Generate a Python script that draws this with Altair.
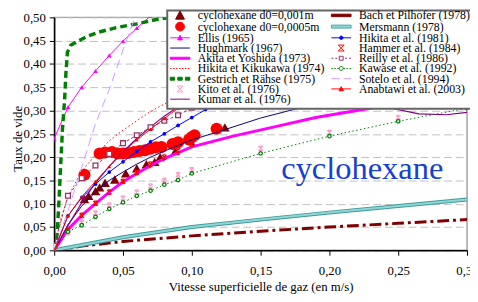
import altair as alt
import pandas as pd

# ---------------- data ----------------
SERIES = [
    "cyclohexane d0=0,001m", "cyclohexane d0=0,0005m", "Ellis (1965)", "Hughmark (1967)",
    "Akita et Yoshida (1973)", "Hikita et Kikukawa (1974)", "Gestrich et Rähse (1975)",
    "Kito et al. (1976)", "Kumar et al. (1976)", "Bach et Pilhofer (1978)", "Mersmann (1978)",
    "Hikita et al. (1981)", "Hammer et al. (1984)", "Reilly et al. (1986)", "Kawase et al. (1992)",
    "Sotelo et al. (1994)", "Anabtawi et al. (2003)",
]

EXP1_X = [0.022, 0.025, 0.030, 0.033, 0.037, 0.044, 0.052, 0.060, 0.067, 0.073, 0.077, 0.088, 0.099, 0.124]
EXP1_Y = [0.110, 0.117, 0.127, 0.135, 0.145, 0.152, 0.165, 0.176, 0.185, 0.190, 0.200, 0.213, 0.235, 0.264]

EXP2_X = [0.022, 0.033, 0.037, 0.042, 0.046, 0.050, 0.054, 0.058, 0.062, 0.066, 0.070, 0.074, 0.078,
          0.086, 0.090, 0.098, 0.100, 0.102, 0.118]
EXP2_Y = [0.162, 0.208, 0.210, 0.211, 0.208, 0.208, 0.209, 0.211, 0.213, 0.215, 0.218, 0.221, 0.222,
          0.228, 0.232, 0.238, 0.243, 0.247, 0.261]

ELLIS_X = [0, 0.01, 0.02, 0.03, 0.04, 0.05, 0.06, 0.07]
ELLIS_Y = [0.240, 0.307, 0.350, 0.385, 0.418, 0.449, 0.477, 0.503]

HUGHMARK_X = [0, 0.01, 0.02, 0.03, 0.04, 0.05, 0.06, 0.07, 0.08, 0.10, 0.125, 0.15, 0.175, 0.20]
HUGHMARK_Y = [0, 0.055, 0.095, 0.125, 0.150, 0.168, 0.185, 0.200, 0.213, 0.237, 0.260, 0.284, 0.303, 0.320]

AKITA_X = [0, 0.01, 0.02, 0.03, 0.04, 0.05, 0.06, 0.07, 0.08, 0.10, 0.13, 0.16, 0.19, 0.22, 0.25, 0.28]
AKITA_Y = [0, 0.045, 0.075, 0.100, 0.125, 0.147, 0.165, 0.182, 0.197, 0.222, 0.245, 0.265, 0.285, 0.300, 0.315, 0.330]

HIKITA74_X = [0, 0.005, 0.01, 0.02, 0.03, 0.04, 0.05, 0.06, 0.07, 0.08, 0.09, 0.10]
HIKITA74_Y = [0, 0.070, 0.115, 0.170, 0.205, 0.235, 0.258, 0.278, 0.298, 0.314, 0.330, 0.345]

GESTRICH_X = [0, 0.002, 0.003, 0.004, 0.005, 0.006, 0.0075, 0.0085, 0.0096, 0.012, 0.016, 0.023,
              0.032, 0.045, 0.06, 0.075, 0.085, 0.10]
GESTRICH_Y = [0, 0.03, 0.08, 0.14, 0.20, 0.26, 0.32, 0.38, 0.425, 0.440, 0.447, 0.458,
              0.468, 0.478, 0.486, 0.496, 0.500, 0.505]

KITO_X = [0, 0.01, 0.02, 0.03, 0.04, 0.05, 0.06, 0.07, 0.08, 0.09, 0.10, 0.15, 0.20, 0.25, 0.30]
KITO_Y = [0.010, 0.038, 0.060, 0.080, 0.097, 0.112, 0.125, 0.138, 0.150, 0.162, 0.173, 0.219, 0.253, 0.285, 0.308]

KUMAR_X = [0, 0.01, 0.02, 0.03, 0.04, 0.05, 0.06, 0.07, 0.08, 0.09, 0.10, 0.12, 0.15, 0.19, 0.23,
           0.265, 0.285, 0.30]
KUMAR_Y = [0, 0.053, 0.102, 0.145, 0.180, 0.212, 0.240, 0.265, 0.288, 0.308, 0.325, 0.340, 0.345, 0.335, 0.314,
           0.293, 0.291, 0.296]

BACH_X = [0, 0.02, 0.05, 0.10, 0.15, 0.20, 0.25, 0.30]
BACH_Y = [0, 0.009, 0.019, 0.031, 0.041, 0.050, 0.058, 0.066]

MERSMANN_X = [0, 0.05, 0.10, 0.15, 0.20, 0.25, 0.30]
MERSMANN_Y = [0, 0.028, 0.050, 0.066, 0.081, 0.095, 0.109]

HIKITA81_X = [0, 0.01, 0.02, 0.03, 0.04, 0.05, 0.06, 0.07, 0.08, 0.09, 0.10, 0.11, 0.12, 0.13]
HIKITA81_Y = [0, 0.074, 0.113, 0.142, 0.168, 0.190, 0.212, 0.233, 0.250, 0.268, 0.285, 0.302, 0.317, 0.332]

HAMMER_X = [0, 0.01, 0.02, 0.03, 0.04, 0.05, 0.06, 0.07, 0.08, 0.09, 0.10, 0.15]
HAMMER_Y = [0, 0.043, 0.075, 0.101, 0.125, 0.148, 0.167, 0.185, 0.200, 0.215, 0.228, 0.310]

REILLY_X = [0, 0.01, 0.02, 0.03, 0.04, 0.05, 0.06, 0.07, 0.08, 0.09, 0.10, 0.11]
REILLY_Y = [0.010, 0.117, 0.155, 0.182, 0.207, 0.230, 0.247, 0.264, 0.278, 0.290, 0.306, 0.320]

KAWASE_X = [0, 0.01, 0.02, 0.03, 0.04, 0.05, 0.06, 0.07, 0.08, 0.09, 0.10, 0.15, 0.20, 0.25, 0.30]
KAWASE_Y = [0, 0.040, 0.054, 0.072, 0.089, 0.103, 0.117, 0.128, 0.141, 0.151, 0.165, 0.208, 0.245, 0.277, 0.305]

SOTELO_X = [0, 0.01, 0.02, 0.03, 0.04, 0.05, 0.06]
SOTELO_Y = [0, 0.085, 0.178, 0.272, 0.345, 0.430, 0.510]

ANABTAWI_X = [0, 0.01, 0.02, 0.03, 0.04, 0.05, 0.06, 0.07, 0.08, 0.09, 0.10]
ANABTAWI_Y = [0, 0.074, 0.115, 0.148, 0.180, 0.210, 0.237, 0.260, 0.283, 0.305, 0.325]

X_TICKS = [0, 0.05, 0.10, 0.15, 0.20, 0.25, 0.30]
Y_TICKS = [0, 0.05, 0.10, 0.15, 0.20, 0.25, 0.30, 0.35, 0.40, 0.45, 0.50]

NOTE_TEXT = ["cyclohexane"]
NOTE_X = [0.165]
NOTE_Y = [0.154]

DATA = {
    SERIES[0]: (EXP1_X, EXP1_Y), SERIES[1]: (EXP2_X, EXP2_Y), SERIES[2]: (ELLIS_X, ELLIS_Y),
    SERIES[3]: (HUGHMARK_X, HUGHMARK_Y), SERIES[4]: (AKITA_X, AKITA_Y), SERIES[5]: (HIKITA74_X, HIKITA74_Y),
    SERIES[6]: (GESTRICH_X, GESTRICH_Y), SERIES[7]: (KITO_X, KITO_Y), SERIES[8]: (KUMAR_X, KUMAR_Y),
    SERIES[9]: (BACH_X, BACH_Y), SERIES[10]: (MERSMANN_X, MERSMANN_Y), SERIES[11]: (HIKITA81_X, HIKITA81_Y),
    SERIES[12]: (HAMMER_X, HAMMER_Y), SERIES[13]: (REILLY_X, REILLY_Y), SERIES[14]: (KAWASE_X, KAWASE_Y),
    SERIES[15]: (SOTELO_X, SOTELO_Y), SERIES[16]: (ANABTAWI_X, ANABTAWI_Y),
}

# ---------------- styles ----------------
FONT = "Liberation Serif"
XSTAR = "M-1,-1L1,1M1,-1L-1,1M-0.6,-1H0.6M-0.6,1H0.6"
CIRC = "M-1,0A1,1 0 1,0 1,0A1,1 0 1,0 -1,0Z"
# (color, line width, dash, marker shape, marker size, marker filled)
STYLE = {
    SERIES[0]: ("#800000", 0, None, "triangle-up", 95, True),
    SERIES[1]: ("#FF0000", 0, None, "circle", 150, True),
    SERIES[2]: ("#FF00FF", 1, None, "triangle-up", 22, True),
    SERIES[3]: ("#000080", 1, None, None, 0, True),
    SERIES[4]: ("#FF00FF", 3, None, None, 0, True),
    SERIES[5]: ("#FF0000", 1, [1.5, 2.5], None, 0, True),
    SERIES[6]: ("#008000", 3.5, [7, 4], None, 0, True),
    SERIES[7]: ("#FF99CC", 0, None, XSTAR, 20, False),
    SERIES[8]: ("#800080", 1.2, None, None, 0, True),
    SERIES[9]: ("#800000", 3, [12, 4, 3, 4], None, 0, True),
    SERIES[10]: ("#66C2C2", 3, None, None, 0, True),
    SERIES[11]: ("#0000FF", 1, None, "circle", 14, True),
    SERIES[12]: ("#FF0000", 0, None, XSTAR, 20, False),
    SERIES[13]: ("#993366", 1, [3, 2], "square", 24, False),
    SERIES[14]: ("#008000", 1, [1.5, 2.5], CIRC, 12, False),
    SERIES[15]: ("#CC99FF", 1, [9, 5], None, 0, True),
    SERIES[16]: ("#FF0000", 1, None, "triangle-up", 16, True),
}

# ---- legend symbol paths (1 unit = 5 px at symbol size 100), lifted to sit on the text's middle
Y0 = -0.8


def f(v):
    return f"{round(v, 3):g}"


def hl(x1, x2):
    return f"M{f(x1)},{f(Y0)}H{f(x2)}"


def segs(pairs):
    return "".join(hl(a, b) for a, b in pairs)


def rect(x1, x2, h):
    return f"M{f(x1)},{f(Y0 - h)}H{f(x2)}V{f(Y0 + h)}H{f(x1)}Z"


def tri(r):
    return f"M0,{f(Y0 - r)}L{f(r)},{f(Y0 + 0.85 * r)}H{f(-r)}Z"


def circ(r):
    return f"M{f(-r)},{f(Y0)}A{f(r)},{f(r)} 0 1,0 {f(r)},{f(Y0)}A{f(r)},{f(r)} 0 1,0 {f(-r)},{f(Y0)}Z"


def sq(r):
    return f"M{f(-r)},{f(Y0 - r)}H{f(r)}V{f(Y0 + r)}H{f(-r)}Z"


def xstar(r):
    return (f"M{f(-r)},{f(Y0 - r)}L{f(r)},{f(Y0 + r)}M{f(r)},{f(Y0 - r)}L{f(-r)},{f(Y0 + r)}"
            f"M{f(-r)},{f(Y0 - r)}H{f(r)}M{f(-r)},{f(Y0 + r)}H{f(r)}")


DOTS = [(-2 + 0.6 * k, -1.7 + 0.6 * k) for k in range(7)]
LEG_SHAPE = [
    tri(0.9),
    circ(0.9),
    hl(-2, 2) + tri(0.5),
    hl(-2, 2),
    rect(-2, 2, 0.2),
    segs(DOTS),
    rect(-2, -1.1, 0.3) + rect(-0.45, 0.45, 0.3) + rect(1.1, 2, 0.3),
    xstar(0.6),
    hl(-2, 2),
    rect(-2, 2, 0.25),
    rect(-2, 2, 0.3),
    hl(-2, 2) + circ(0.35),
    xstar(0.6),
    segs([(-2, -1.6), (-1.2, -0.8), (0.8, 1.2), (1.6, 2)]) + sq(0.4),
    segs([(-2, -1.7), (-1.4, -1.1), (-0.8, -0.5), (0.5, 0.8), (1.1, 1.4), (1.7, 2)]) + circ(0.4),
    segs([(-2, -0.3), (0.5, 2)]),
    hl(-2, 2) + tri(0.45),
]
LEG_STROKE = [STYLE[s][0] for s in SERIES]
LEG_STROKE[10] = "#4FA3A3"
LEG_FILL = ["#800000", "#FF0000", "#FF00FF", "transparent", "#FF00FF", "transparent", "#008000",
            "transparent", "transparent", "#800000", "#8FD6D6", "#0000FF", "transparent", "white",
            "white", "transparent", "#FF0000"]

rows = []
for s in SERIES:
    xs, ys = DATA[s]
    for i, (a, b) in enumerate(zip(xs, ys)):
        rows.append({"series": s, "x": a, "y": b, "i": i})
df = pd.DataFrame(rows)

label_expr = "replace(format(datum.value, '.2f'), '.', ',')"
X = alt.X("x:Q", scale=alt.Scale(domain=[0, 0.3], nice=False, zero=False),
          axis=alt.Axis(values=X_TICKS, labelExpr=label_expr, grid=False, labelFlush=False,
                        title="Vitesse superficielle de gaz (en m/s)",
                        tickSize=5, labelPadding=10, titlePadding=3))
Y = alt.Y("y:Q", scale=alt.Scale(domain=[0, 0.5], nice=False, zero=False),
          axis=alt.Axis(values=Y_TICKS, labelExpr=label_expr, grid=True, labelFlush=False,
                        title="Taux de vide", tickSize=5, labelPadding=4,
                        titleX=-37, titleY=123, titleAngle=270,
                        titleAlign="center", titleBaseline="middle"))

base = alt.Chart(df)
layers = []
for s in SERIES:
    color, lw, dash, marker, msize, filled = STYLE[s]
    sub = base.transform_filter(alt.datum.series == s)
    if s == SERIES[10]:
        layers.append(sub.mark_line(color="#3F9A9A", strokeWidth=4, clip=True).encode(x=X, y=Y, order="i:Q"))
        layers.append(sub.mark_line(color="#8FD6D6", strokeWidth=2, clip=True).encode(x=X, y=Y, order="i:Q"))
        continue
    if lw > 0:
        kw = dict(color=color, strokeWidth=lw, clip=True)
        if dash:
            kw["strokeDash"] = dash
        layers.append(sub.mark_line(**kw).encode(x=X, y=Y, order="i:Q"))
    if marker:
        mk = dict(shape=marker, size=msize, opacity=1, clip=True, strokeWidth=1)
        if filled:
            mk.update(filled=True, color=color)
        else:
            mk.update(filled=False, stroke=color, fill="white" if s in (SERIES[13], SERIES[14]) else "transparent",
                      strokeWidth=1.3)
        layers.append(sub.mark_point(**mk).encode(x=X, y=Y))

note = alt.Chart(pd.DataFrame({"x": NOTE_X, "y": NOTE_Y, "t": NOTE_TEXT})).mark_text(
    font=FONT, fontSize=33, color="#1540D0", align="left", baseline="alphabetic"
).encode(x=X, y=Y, text="t:N")
layers.append(note)

legend = alt.Legend(title=None, orient="none", legendX=115, legendY=-7, direction="vertical",
                    columns=2, columnPadding=5, rowPadding=-1.6,
                    labelFont=FONT, labelFontSize=12, labelBaseline="alphabetic",
                    labelColor="black", symbolSize=100, symbolStrokeWidth=1, symbolOffset=4,
                    labelOffset=12, padding=3, strokeColor="#666666", fillColor="white",
                    labelLimit=300)
leg_layer = alt.Chart(pd.DataFrame({"series": SERIES})).transform_filter("false").mark_point(
    opacity=1, strokeWidth=1, size=100
).encode(
    shape=alt.Shape("series:N", scale=alt.Scale(domain=SERIES, range=LEG_SHAPE), legend=legend),
    stroke=alt.Stroke("series:N", scale=alt.Scale(domain=SERIES, range=LEG_STROKE), legend=legend),
    fill=alt.Fill("series:N", scale=alt.Scale(domain=SERIES, range=LEG_FILL), legend=legend),
)
layers.append(leg_layer)

chart = alt.layer(*layers).properties(
    width=420, height=237,
    autosize=alt.AutoSizeParams(type="none"),
    padding={"left": 47, "top": 7, "right": 3, "bottom": 48},
).configure(font=FONT).configure_axis(
    labelFont=FONT, labelFontSize=13, labelColor="black", titleFont=FONT, titleFontSize=13,
    titleFontWeight="normal", titleColor="black", domainColor="black", domainWidth=1.5,
    tickColor="black", tickWidth=1, gridColor="#C0C0C0", gridDash=[8, 4], gridWidth=1,
).configure_view(stroke="#A0A0A0", strokeWidth=1.5).configure_legend(strokeWidth=2)

chart.save("out.html", embed_options={"renderer": "svg", "actions": False})
